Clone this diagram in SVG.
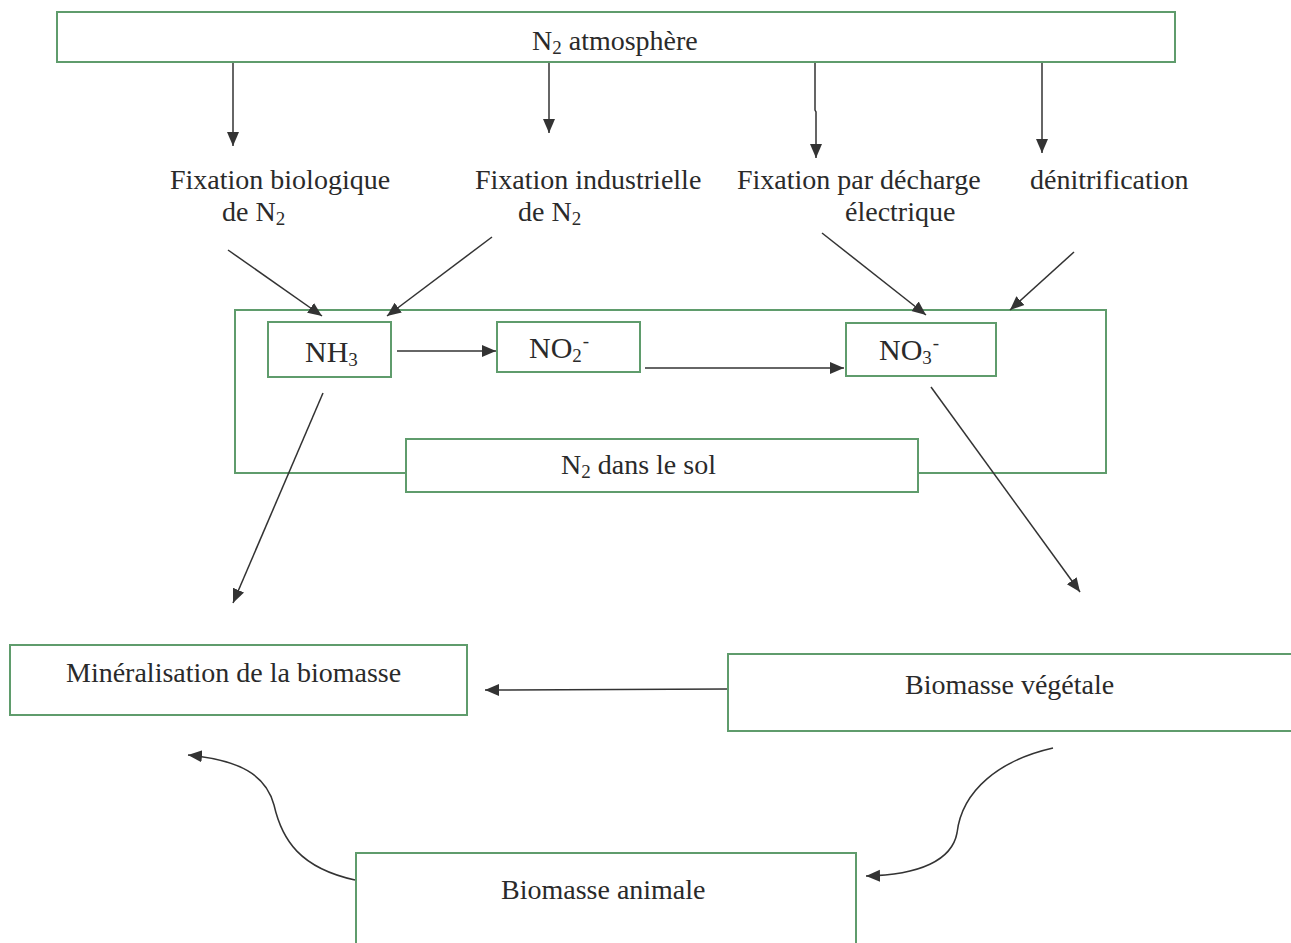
<svg xmlns="http://www.w3.org/2000/svg" width="1291" height="943" viewBox="0 0 1291 943">
<style>
.box{fill:#fff;stroke:#5f9c6c;stroke-width:2}
.frame{fill:none;stroke:#5f9c6c;stroke-width:2}
.t{font-family:"Liberation Serif","Times New Roman",serif;font-size:28px;fill:#2a2a2a}
.k{font-size:30px}
.s{font-size:19px}
.c{stroke:#333;stroke-width:1.5;fill:none}
</style>
<defs>
<marker id="ah" markerUnits="userSpaceOnUse" markerWidth="16" markerHeight="14" refX="14" refY="7" orient="auto">
<path d="M0,1 L14,7 L0,13 Z" fill="#333"/>
</marker>
</defs>
<rect width="1291" height="943" fill="#fff"/>

<g id="n2-atmosphere">
<rect class="box" x="57" y="12" width="1118" height="50"/>
<text class="t" x="532" y="50">N<tspan class="s" dy="4">2</tspan><tspan dy="-4"> atmosphère</tspan></text>
</g>

<g id="fix-bio">
<text class="t" x="170" y="189">Fixation biologique</text>
<text class="t" x="222" y="221">de N<tspan class="s" dy="4">2</tspan></text>
</g>
<g id="fix-ind">
<text class="t" x="475" y="189">Fixation industrielle</text>
<text class="t" x="518" y="221">de N<tspan class="s" dy="4">2</tspan></text>
</g>
<g id="fix-dech">
<text class="t" x="737" y="189">Fixation par décharge</text>
<text class="t" x="845" y="221">électrique</text>
</g>
<g id="denitrification">
<text class="t" x="1030" y="189">dénitrification</text>
</g>

<g id="sol">
<rect class="frame" x="235" y="310" width="871" height="163"/>
</g>
<g id="nh3">
<rect class="box" x="268" y="322" width="123" height="55"/>
<text class="t k" x="305" y="362">NH<tspan class="s" font-size="21" dy="4">3</tspan></text>
</g>
<g id="no2">
<rect class="box" x="497" y="322" width="143" height="50"/>
<text class="t k" x="529" y="358">NO<tspan class="s" dy="4">2</tspan><tspan class="s" dx="1" dy="-15">-</tspan></text>
</g>
<g id="no3">
<rect class="box" x="846" y="323" width="150" height="53"/>
<text class="t k" x="879" y="360">NO<tspan class="s" dy="4">3</tspan><tspan class="s" dx="1" dy="-15">-</tspan></text>
</g>
<g id="n2-sol">
<rect class="box" x="406" y="439" width="512" height="53"/>
<text class="t" x="561" y="474">N<tspan class="s" dy="4">2</tspan><tspan dy="-4"> dans le sol</tspan></text>
</g>

<g id="mineralisation">
<rect class="box" x="10" y="645" width="457" height="70"/>
<text class="t" x="66" y="682">Minéralisation de la biomasse</text>
</g>
<g id="biomasse-vegetale">
<rect class="box" x="728" y="654" width="572" height="77"/>
<text class="t" x="905" y="694">Biomasse végétale</text>
</g>
<g id="biomasse-animale">
<rect class="box" x="356" y="853" width="500" height="100"/>
<text class="t" x="501" y="899">Biomasse animale</text>
</g>

<g id="connectors">
<line class="c" x1="233" y1="63" x2="233" y2="146" marker-end="url(#ah)"/>
<line class="c" x1="549" y1="63" x2="549" y2="133" marker-end="url(#ah)"/>
<polyline class="c" points="815,63 815,110 816,112 816,158" marker-end="url(#ah)"/>
<line class="c" x1="1042" y1="63" x2="1042" y2="153" marker-end="url(#ah)"/>
<line class="c" x1="228" y1="250" x2="322" y2="316" marker-end="url(#ah)"/>
<line class="c" x1="492" y1="237" x2="387" y2="316" marker-end="url(#ah)"/>
<line class="c" x1="822" y1="233" x2="926" y2="315" marker-end="url(#ah)"/>
<line class="c" x1="1074" y1="252" x2="1010" y2="310" marker-end="url(#ah)"/>
<line class="c" x1="397" y1="351" x2="496" y2="351" marker-end="url(#ah)"/>
<line class="c" x1="645" y1="368" x2="844" y2="368" marker-end="url(#ah)"/>
<line class="c" x1="323" y1="393" x2="233" y2="603" marker-end="url(#ah)"/>
<line class="c" x1="931" y1="387" x2="1080" y2="592" marker-end="url(#ah)"/>
<line class="c" x1="727" y1="689" x2="485" y2="690" marker-end="url(#ah)"/>
<path class="c" d="M355,880 C300,868 282,840 274,805 C266,775 240,760 188,755" marker-end="url(#ah)"/>
<path class="c" d="M1053,748 C1000,760 962,790 957,833 C952,860 920,875 866,876" marker-end="url(#ah)"/>
</g>
</svg>
